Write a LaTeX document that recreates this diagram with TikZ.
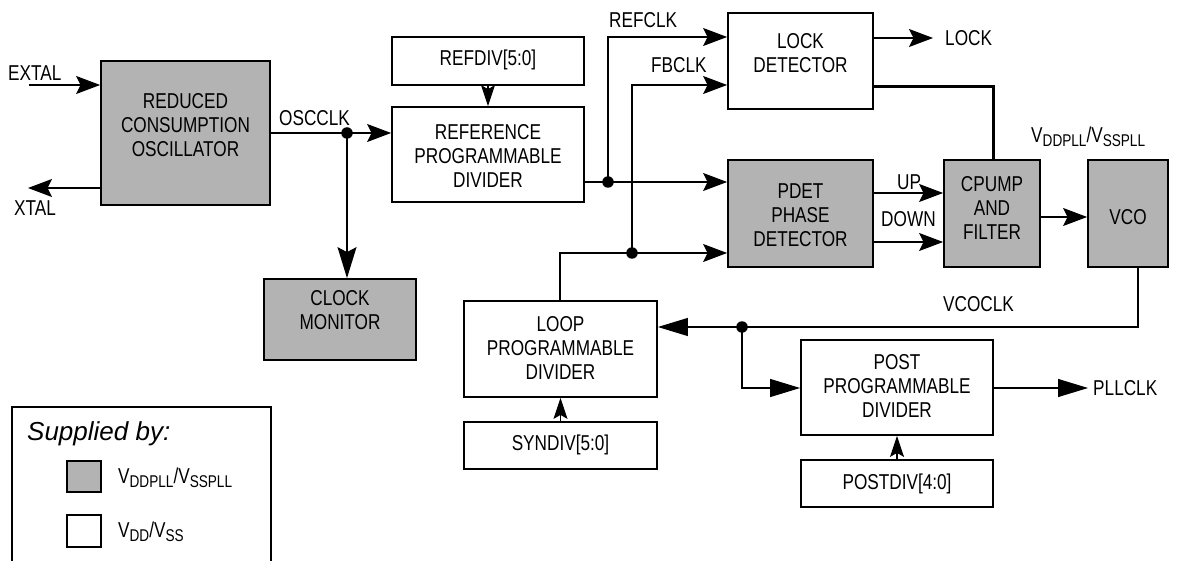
\documentclass[tikz,border=0pt]{standalone}
\usepackage{fontspec}
\setmainfont{Liberation Sans}[FakeStretch=0.8]
\newfontfamily\legendfont{Liberation Sans}
\usetikzlibrary{arrows.meta}
\newcommand{\vsub}[1]{\raisebox{-4pt}{\fontsize{17}{17}\selectfont #1}}
\definecolor{boxgray}{RGB}{179,179,179}
\begin{document}
\begin{tikzpicture}[x=1pt,y=-1pt,
  every node/.style={font=\fontsize{21.5}{24}\selectfont},
  box/.style={draw, line width=1.8pt, inner sep=0pt},
  gbox/.style={box, fill=boxgray},
  txt/.style={align=center, inner sep=0pt},
  lbl/.style={anchor=west, inner sep=0pt},
  wire/.style={line width=1.1pt},
  thickwire/.style={line width=3pt},
  arr/.style={wire, -{Stealth[length=24pt,width=18pt,inset=4.5pt]}},
  bigarr/.style={wire, -{Stealth[length=31pt,width=19pt,inset=5pt]}},
  smallarr/.style={wire, -{Stealth[length=21pt,width=14pt,inset=4pt]}},
  tri/.style={wire, -{Triangle[length=30pt,width=18pt]}},
  dot/.style={circle, fill=black, inner sep=0pt, minimum size=11.5pt}]
\useasboundingbox (0,0) rectangle (1177,561);

% blocks
\node[gbox, minimum width=169pt, minimum height=144pt] (osc) at (185.5,133) {};
\node[txt] at (185.5,125) {REDUCED\\CONSUMPTION\\OSCILLATOR};
\node[box, minimum width=192pt, minimum height=48pt] (refdiv) at (488,61) {};
\node[txt] at (488,60) {REFDIV[5:0]};
\node[box, minimum width=192pt, minimum height=95pt] (ref) at (488,154.5) {};
\node[txt] at (488,156) {REFERENCE\\PROGRAMMABLE\\DIVIDER};
\node[gbox, minimum width=152pt, minimum height=81pt] (clkmon) at (340,319.5) {};
\node[txt] at (340,310) {CLOCK\\MONITOR};
\node[box, minimum width=145pt, minimum height=96pt] (lock) at (800.5,61) {};
\node[txt] at (800.5,53.5) {LOCK\\DETECTOR};
\node[gbox, minimum width=145pt, minimum height=107pt] (pdet) at (800.5,213.5) {};
\node[txt] at (800.5,215) {PDET\\PHASE\\DETECTOR};
\node[gbox, minimum width=96pt, minimum height=107pt] (cpump) at (992,213.5) {};
\node[txt] at (992,208) {CPUMP\\AND\\FILTER};
\node[gbox, minimum width=80pt, minimum height=107pt] (vco) at (1128,213.5) {};
\node[txt] at (1128,217) {VCO};
\node[box, minimum width=193pt, minimum height=96pt] (loop) at (560.5,349) {};
\node[txt] at (560.5,348) {LOOP\\PROGRAMMABLE\\DIVIDER};
\node[box, minimum width=193pt, minimum height=47pt] (syndiv) at (560.5,445.5) {};
\node[txt] at (560.5,445) {SYNDIV[5:0]};
\node[box, minimum width=192pt, minimum height=95pt] (post) at (897,387.5) {};
\node[txt] at (897,386) {POST\\PROGRAMMABLE\\DIVIDER};
\node[box, minimum width=192pt, minimum height=47pt] (postdiv) at (897,483.5) {};
\node[txt] at (897,484) {POSTDIV[4:0]};

% junction dots
\node[dot] (d1) at (347,133) {};
\node[dot] (d2) at (608,182) {};
\node[dot] (d3) at (632,253) {};
\node[dot] (d4) at (742,327) {};

% free ends
\coordinate (extal) at (29,85);
\coordinate (xtal) at (28,188);
\coordinate (lockout) at (933,38);
\coordinate (pllout) at (1088,388);
\coordinate (lbend) at (560,253);
\coordinate (lkbend) at (993,87);
\coordinate (vbend) at (1138,327);

% connectors
\draw[arr] (extal) -- (extal -| osc.west);
\draw[arr] (xtal -| osc.west) -- (xtal);
\draw[wire] (osc.east |- d1) -- (d1.center);
\draw[arr] (d1.center) -- (d1 -| ref.west);
\draw[bigarr] (d1.center) -- (d1 |- clkmon.north);
\draw[smallarr] (refdiv.south) -- (ref.north);
\draw[wire] (ref.east |- d2) -- (d2.center);
\draw[arr] (d2.center) -- (608,37) -- (lock.west |- 0,37);
\draw[arr] (d2.center) -- (d2 -| pdet.west);
\draw[arr] (d3.center) -- (632,85) -- (lock.west |- 0,85);
\draw[wire] (loop.north -| lbend) -- (lbend) -- (d3.center);
\draw[arr] (d3.center) -- (d3 -| pdet.west);
\draw[arr] (pdet.east |- 0,193) -- (cpump.west |- 0,193);
\draw[arr] (pdet.east |- 0,242) -- (cpump.west |- 0,242);
\draw[arr] (cpump.east |- 0,217) -- (vco.west |- 0,217);
\draw[arr] (lock.east |- lockout) -- (lockout);
\draw[thickwire] (lock.east |- lkbend) -- (lkbend) -- (lkbend |- cpump.north);
\draw[wire] (vbend |- vco.south) -- (vbend) -- (d4.center);
\draw[tri] (d4.center) -- (d4 -| loop.east);
\draw[tri] (d4.center) |- (post.west |- 0,388);
\draw[smallarr] (syndiv.north) -- (loop.south);
\draw[smallarr] (postdiv.north) -- (post.south);
\draw[tri] (post.east |- pllout) -- (pllout);

% labels
\node[lbl] at (8,73) {EXTAL};
\node[lbl] at (14,208) {XTAL};
\node[lbl] at (279,118) {OSCCLK};
\node[lbl] at (609,20) {REFCLK};
\node[lbl] at (651,65) {FBCLK};
\node[lbl] at (945,38) {LOCK};
\node[lbl] at (897,182) {UP};
\node[lbl] at (881,219) {DOWN};
\node[lbl] at (1031,137) {V\vsub{DDPLL}/V\vsub{SSPLL}};
\node[lbl] at (943,304) {VCOCLK};
\node[lbl] at (1093,388) {PLLCLK};

% legend
\draw[line width=1.2pt] (12,561) -- (12,407) -- (271,407) -- (271,561);
\node[lbl, font=\legendfont\itshape\fontsize{26}{28}\selectfont] at (27,434) {Supplied by:};
\node[draw, line width=1.4pt, fill=boxgray, inner sep=0pt, minimum width=34pt, minimum height=31pt] (lg1) at (84,476.5) {};
\node[lbl] at (118,478) {V\vsub{DDPLL}/V\vsub{SSPLL}};
\node[draw, line width=1.4pt, fill=white, inner sep=0pt, minimum width=34pt, minimum height=32pt] (lg2) at (84,531) {};
\node[lbl] at (118,532) {V\vsub{DD}/V\vsub{SS}};
\end{tikzpicture}
\end{document}
